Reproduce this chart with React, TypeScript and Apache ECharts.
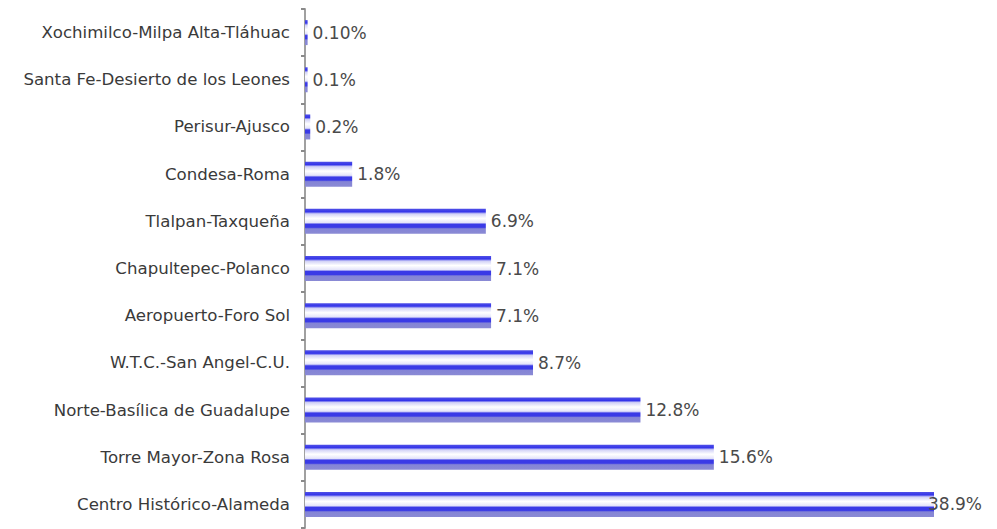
import React, { useEffect, useRef } from "react";
import * as echarts from "echarts";

const categories = [
  "Xochimilco-Milpa Alta-Tláhuac",
  "Santa Fe-Desierto de los Leones",
  "Perisur-Ajusco",
  "Condesa-Roma",
  "Tlalpan-Taxqueña",
  "Chapultepec-Polanco",
  "Aeropuerto-Foro Sol",
  "W.T.C.-San Angel-C.U.",
  "Norte-Basílica de Guadalupe",
  "Torre Mayor-Zona Rosa",
  "Centro Histórico-Alameda",
];
const values = [0.1, 0.1, 0.2, 1.8, 6.9, 7.1, 7.1, 8.7, 12.8, 15.6, 38.9];
const valueLabels = ["0.10%", "0.1%", "0.2%", "1.8%", "6.9%", "7.1%", "7.1%", "8.7%", "12.8%", "15.6%", "38.9%"];
const axisMax = 24;

export default function App() {
  const ref = useRef<HTMLDivElement>(null);
  useEffect(() => {
    if (!ref.current) return;
    const chart = echarts.init(ref.current, null, { renderer: "svg" });
    const barColor = new echarts.graphic.LinearGradient(0, 0, 0, 1, [
      { offset: 0, color: "#5050e6" },
      { offset: 0.12, color: "#3434ea" },
      { offset: 0.2, color: "#d0d0f6" },
      { offset: 0.38, color: "#ffffff" },
      { offset: 0.55, color: "#e4e4fa" },
      { offset: 0.62, color: "#3a3ae6" },
      { offset: 0.74, color: "#3a3ae6" },
      { offset: 0.8, color: "#8484d6" },
      { offset: 1, color: "#8a8ad4" },
    ]);
    const seriesData = values.map((v) =>
      v > axisMax ? { value: v, label: { offset: [-11, 0] } } : v
    );
    chart.setOption({
      animation: false,
      grid: { left: 305, right: 63, top: 9, bottom: 1, containLabel: false },
      xAxis: {
        type: "value",
        min: 0,
        max: axisMax,
        show: false,
      },
      yAxis: {
        type: "category",
        data: categories,
        inverse: true,
        axisLine: { show: true, lineStyle: { color: "#a0a0a0", width: 2 } },
        axisTick: { show: true, length: 4, lineStyle: { color: "#8a8a8a", width: 2 } },
        axisLabel: {
          color: "#3a3a3a",
          fontFamily: "DejaVu Sans",
          fontSize: 16.6,
          margin: 15,
        },
      },
      series: [
        {
          type: "bar",
          data: seriesData,
          barWidth: 25,
          clip: true,
          itemStyle: { color: barColor },
          label: {
            show: true,
            position: "right",
            distance: 5,
            color: "#4a4a4a",
            fontFamily: "DejaVu Sans",
            fontSize: 17,
            formatter: (p: any) => valueLabels[p.dataIndex],
          },
        },
      ],
    });
    return () => chart.dispose();
  }, []);
  return <div ref={ref} style={{ width: 997, height: 529, position: "absolute", left: 0, top: 0 }} />;
}
